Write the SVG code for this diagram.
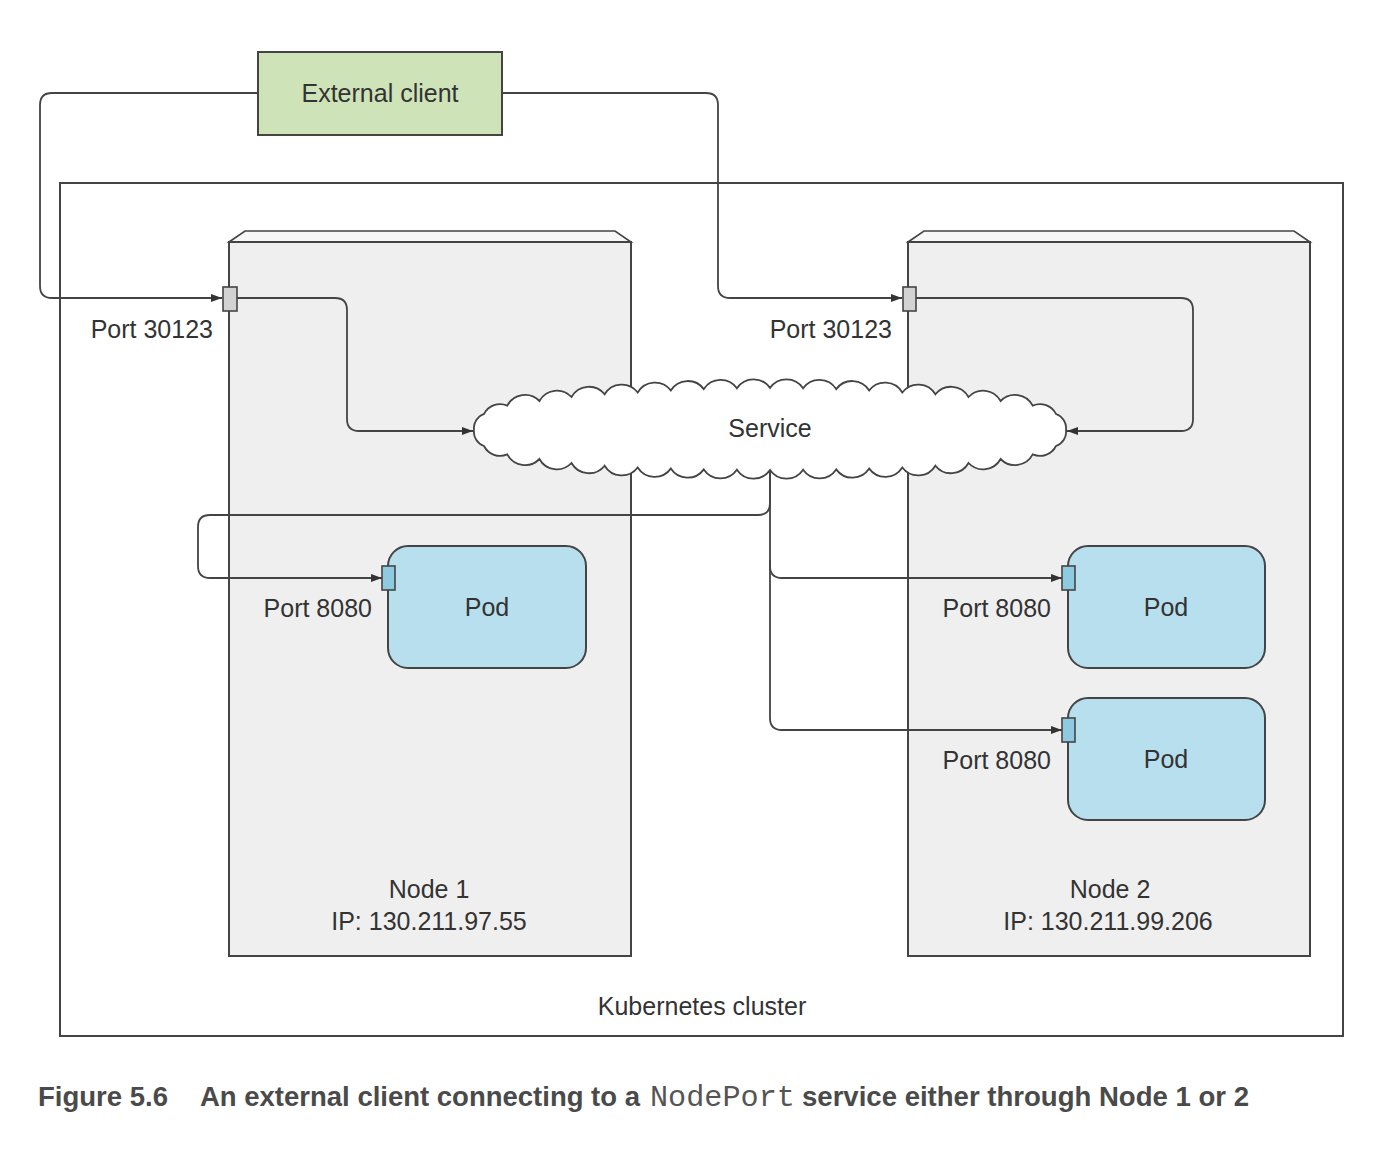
<svg xmlns="http://www.w3.org/2000/svg" width="1380" height="1154" viewBox="0 0 1380 1154">
<defs>
<style>
.t{font-family:"Liberation Sans",Arial,sans-serif;font-size:25px;fill:#333;}
.m{text-anchor:middle;}
.e{text-anchor:end;}
.ln{fill:none;stroke:#444;stroke-width:1.8;}
.box{stroke:#444;stroke-width:2;}
.node{fill:#efeff0;stroke:#444;stroke-width:2;}
.bevel{fill:#f7f7f7;stroke:#444;stroke-width:1.6;}
.pod{fill:#b8dfee;stroke:#444;stroke-width:2;}
.pport{fill:#8ecbe0;stroke:#444;stroke-width:1.6;}
.nport{fill:#d2d2d2;stroke:#444;stroke-width:1.6;}
.cap{font-family:"Liberation Sans",Arial,sans-serif;font-weight:bold;font-size:27px;fill:#4a4a4a;}
.mono{font-family:"Liberation Mono","Courier New",monospace;font-size:29px;fill:#555;}
</style>
<marker id="arr" viewBox="0 0 11 8" refX="11" refY="4" markerWidth="11" markerHeight="8" markerUnits="userSpaceOnUse" orient="auto">
<path d="M0,0 L11,4 L0,8 Z" fill="#333"/>
</marker>
</defs>
<rect width="1380" height="1154" fill="#ffffff"/>

<g id="cluster">
<rect x="60" y="183" width="1283" height="853" fill="#ffffff" class="box"/>
<text class="t m" x="702" y="1015">Kubernetes cluster</text>
</g>

<g id="node1">
<polygon class="bevel" points="229,242 245,231 615,231 631,242"/>
<rect class="node" x="229" y="242" width="402" height="714"/>
<text class="t m" x="429" y="898">Node 1</text>
<text class="t m" x="429" y="930">IP: 130.211.97.55</text>
</g>

<g id="node2">
<polygon class="bevel" points="908,242 924,231 1294,231 1310,242"/>
<rect class="node" x="908" y="242" width="402" height="714"/>
<text class="t m" x="1110" y="898">Node 2</text>
<text class="t m" x="1108" y="930">IP: 130.211.99.206</text>
</g>

<g id="external-client">
<rect x="258" y="52" width="244" height="83" fill="#cee3b8" class="box"/>
<text class="t m" x="380" y="102">External client</text>
</g>

<g id="connectors">
<path class="ln" marker-end="url(#arr)" d="M258,93 H52 Q40,93 40,105 V286 Q40,298 52,298 H222"/>
<path class="ln" marker-end="url(#arr)" d="M502,93 H706 Q718,93 718,105 V286 Q718,298 730,298 H902"/>
<path class="ln" marker-end="url(#arr)" d="M237,298 H335 Q347,298 347,310 V419 Q347,431 359,431 H473"/>
<path class="ln" marker-end="url(#arr)" d="M916,298 H1181 Q1193,298 1193,310 V419 Q1193,431 1181,431 H1067"/>
<path class="ln" marker-end="url(#arr)" d="M770,470 V503 Q770,515 758,515 H210 Q198,515 198,527 V566 Q198,578 210,578 H382"/>
<path class="ln" marker-end="url(#arr)" d="M770,470 V566 Q770,578 782,578 H1062"/>
<path class="ln" marker-end="url(#arr)" d="M770,560 V718 Q770,730 782,730 H1062"/>
</g>

<g id="node1-port">
<rect class="nport" x="223" y="287" width="14" height="24"/>
<text class="t e" x="213" y="338">Port 30123</text>
</g>

<g id="node2-port">
<rect class="nport" x="903" y="287" width="13" height="24"/>
<text class="t e" x="892" y="338">Port 30123</text>
</g>

<g id="service">
<path fill="#ffffff" stroke="#444" stroke-width="1.8" d="M474,430 A15,15 0 0 1 484,414 A18,18 0 0 1 507.3,405.6 A20,20 0 0 1 539.4,401 A20,20 0 0 1 571.5,397 A20,20 0 0 1 604.6,394.3 A20,20 0 0 1 637.7,392.5 A20,20 0 0 1 670.8,390.4 A20,20 0 0 1 703.8,389.1 A20,20 0 0 1 736.9,388.3 A20,20 0 0 1 770,388 A20,20 0 0 1 803.1,388.3 A20,20 0 0 1 836.2,389.1 A20,20 0 0 1 869.2,390.4 A20,20 0 0 1 902.3,392.5 A20,20 0 0 1 935.4,394.3 A20,20 0 0 1 968.5,397 A20,20 0 0 1 1000.6,401 A20,20 0 0 1 1032.7,405.6 A18,18 0 0 1 1056,414 A15,15 0 0 1 1066,430 A15,15 0 0 1 1056,446 A18,18 0 0 1 1032.7,454.4 A20,20 0 0 1 1000.6,459 A20,20 0 0 1 968.5,463 A20,20 0 0 1 935.4,465.7 A20,20 0 0 1 902.3,467.5 A20,20 0 0 1 869.2,468.6 A20,20 0 0 1 836.2,469.4 A20,20 0 0 1 803.1,469.7 A20,20 0 0 1 770,470 A20,20 0 0 1 736.9,469.7 A20,20 0 0 1 703.8,469.4 A20,20 0 0 1 670.8,468.6 A20,20 0 0 1 637.7,467.5 A20,20 0 0 1 604.6,465.7 A20,20 0 0 1 571.5,463 A20,20 0 0 1 539.4,459 A20,20 0 0 1 507.3,454.4 A18,18 0 0 1 484,446 A15,15 0 0 1 474,430 Z"/>
<text class="t m" x="770" y="437">Service</text>
</g>

<g id="pod1">
<rect class="pod" x="388" y="546" width="198" height="122" rx="20"/>
<rect class="pport" x="382" y="566" width="13" height="24"/>
<text class="t m" x="487" y="616">Pod</text>
<text class="t e" x="372" y="617">Port 8080</text>
</g>

<g id="pod2">
<rect class="pod" x="1068" y="546" width="197" height="122" rx="20"/>
<rect class="pport" x="1062" y="566" width="13" height="24"/>
<text class="t m" x="1166" y="616">Pod</text>
<text class="t e" x="1051" y="617">Port 8080</text>
</g>

<g id="pod3">
<rect class="pod" x="1068" y="698" width="197" height="122" rx="20"/>
<rect class="pport" x="1062" y="718" width="13" height="24"/>
<text class="t m" x="1166" y="768">Pod</text>
<text class="t e" x="1051" y="769">Port 8080</text>
</g>

<g id="caption">
<text class="cap" x="38" y="1106" textLength="130" lengthAdjust="spacingAndGlyphs">Figure 5.6</text>
<text class="cap" x="200" y="1106" textLength="440" lengthAdjust="spacingAndGlyphs">An external client connecting to a</text>
<text class="mono" x="650" y="1106" textLength="145" lengthAdjust="spacingAndGlyphs">NodePort</text>
<text class="cap" x="802" y="1106" textLength="447" lengthAdjust="spacingAndGlyphs">service either through Node 1 or 2</text>
</g>
</svg>
